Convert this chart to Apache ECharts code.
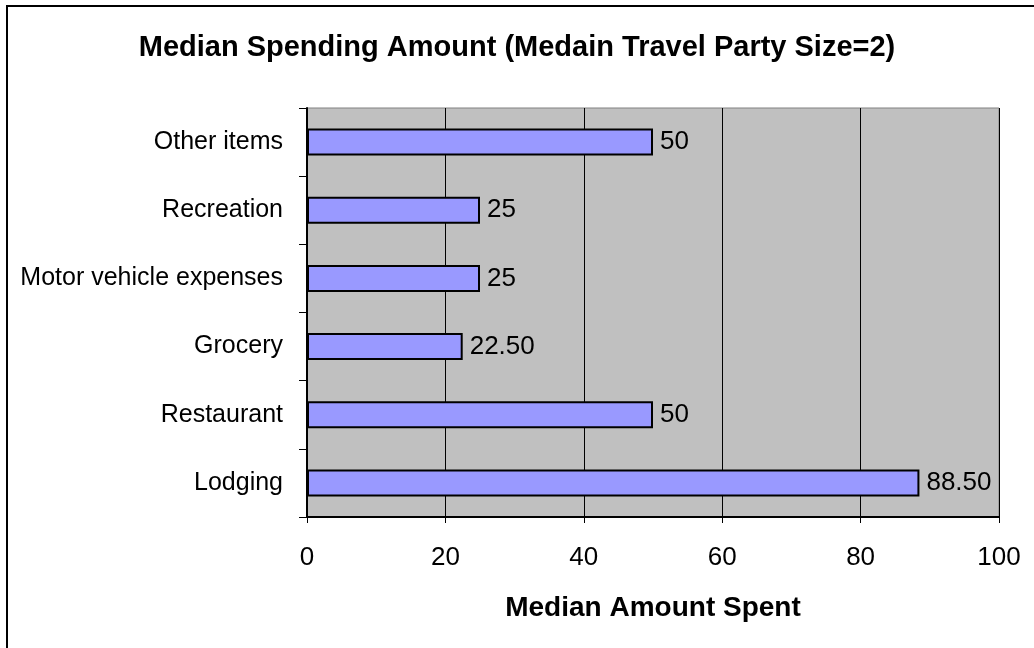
<!DOCTYPE html>
<html>
<head>
<meta charset="utf-8">
<script src="https://cdn.jsdelivr.net/npm/echarts@6/dist/echarts.min.js"></script>
<style>
  html, body { margin: 0; padding: 0; background: #fff; }
  #chart { width: 1034px; height: 648px; }
</style>
</head>
<body>
<div id="chart"></div>
<script>
// Spending categories, bottom to top
const categories = ['Lodging', 'Restaurant', 'Grocery', 'Motor vehicle expenses', 'Recreation', 'Other items'];
// Median amount spent per category
const amounts = [88.5, 50, 22.5, 25, 25, 50];
// Value axis ticks
const xTicks = [0, 20, 40, 60, 80, 100];

const font = '"Liberation Sans", Arial, sans-serif';

function fmt(v) {
  return Number.isInteger(v) ? String(v) : v.toFixed(2);
}

const chart = echarts.init(document.getElementById('chart'));
chart.setOption({
  backgroundColor: '#ffffff',
  animation: false,
  title: {
    text: 'Median Spending Amount (Medain Travel Party Size=2)',
    left: 'center',
    top: 28,
    textStyle: { fontFamily: font, fontSize: 29, fontWeight: 'bold', color: '#000' }
  },
  graphic: [{
    type: 'rect',
    shape: { x: 7, y: 6, width: 1100, height: 700 },
    style: { fill: 'none', stroke: '#000', lineWidth: 2 },
    silent: true
  }],
  grid: {
    left: 307, right: 35, top: 108, bottom: 131,
    show: true,
    backgroundColor: '#c0c0c0',
    borderColor: '#808080',
    borderWidth: 1
  },
  xAxis: {
    type: 'value',
    min: xTicks[0],
    max: xTicks[xTicks.length - 1],
    interval: 20,
    name: 'Median Amount Spent',
    nameLocation: 'middle',
    nameGap: 77,
    nameTextStyle: { fontFamily: font, fontSize: 28, fontWeight: 'bold', color: '#000' },
    axisLine: { show: true, lineStyle: { color: '#000', width: 2 } },
    axisTick: { show: true, length: 6, lineStyle: { color: '#000', width: 1 } },
    axisLabel: { fontFamily: font, fontSize: 26, color: '#000', margin: 28 },
    splitLine: { show: true, lineStyle: { color: '#000', width: 1 } }
  },
  yAxis: {
    type: 'category',
    data: categories,
    axisLine: { show: true, lineStyle: { color: '#000', width: 2 } },
    axisTick: { show: true, length: 8, lineStyle: { color: '#000', width: 1 } },
    axisLabel: { fontFamily: font, fontSize: 25, color: '#000', margin: 24 },
    splitLine: { show: false }
  },
  series: [{
    type: 'bar',
    data: amounts,
    barWidth: 27,
    itemStyle: { color: '#9999ff', borderColor: '#000', borderWidth: 2 },
    label: {
      show: true,
      position: 'right',
      distance: 7,
      fontFamily: font,
      fontSize: 26,
      color: '#000',
      formatter: p => fmt(p.value)
    }
  }]
});
</script>
</body>
</html>
